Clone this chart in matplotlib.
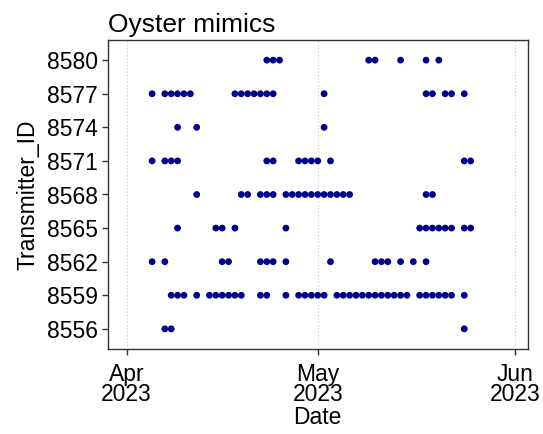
import matplotlib
matplotlib.use("Agg")
import matplotlib.pyplot as plt
import matplotlib.dates as mdates
import pandas as pd

plt.rcParams['font.family'] = ['Liberation Sans', 'DejaVu Sans']

title = "Oyster mimics"
x_label = "Date"
y_label = "Transmitter_ID"

transmitter_ids = [8556, 8559, 8562, 8565, 8568, 8571, 8574, 8577, 8580]

det_8556 = ["2023-04-07", "2023-04-08", "2023-05-24"]
det_8559 = ["2023-04-08", "2023-04-09", "2023-04-10", "2023-04-12",
            "2023-04-14", "2023-04-15", "2023-04-16", "2023-04-17", "2023-04-18", "2023-04-19",
            "2023-04-22", "2023-04-23", "2023-04-26", "2023-04-28", "2023-04-29", "2023-04-30",
            "2023-05-01", "2023-05-02",
            "2023-05-04", "2023-05-05", "2023-05-06", "2023-05-07", "2023-05-08", "2023-05-09",
            "2023-05-10", "2023-05-11", "2023-05-12", "2023-05-13", "2023-05-14", "2023-05-15",
            "2023-05-17", "2023-05-18", "2023-05-19", "2023-05-20", "2023-05-21", "2023-05-22",
            "2023-05-24"]
det_8562 = ["2023-04-05", "2023-04-07", "2023-04-16", "2023-04-17", "2023-04-22", "2023-04-23",
            "2023-04-24", "2023-04-26", "2023-05-03", "2023-05-10", "2023-05-11", "2023-05-12",
            "2023-05-14", "2023-05-16", "2023-05-18"]
det_8565 = ["2023-04-09", "2023-04-15", "2023-04-16", "2023-04-18", "2023-04-26",
            "2023-05-17", "2023-05-18", "2023-05-19", "2023-05-20", "2023-05-21", "2023-05-22",
            "2023-05-24", "2023-05-25"]
det_8568 = ["2023-04-12", "2023-04-19", "2023-04-20", "2023-04-22", "2023-04-23", "2023-04-24",
            "2023-04-26", "2023-04-27", "2023-04-28", "2023-04-29", "2023-04-30",
            "2023-05-01", "2023-05-02", "2023-05-03", "2023-05-04", "2023-05-05", "2023-05-06",
            "2023-05-18", "2023-05-19"]
det_8571 = ["2023-04-05", "2023-04-07", "2023-04-08", "2023-04-09", "2023-04-23", "2023-04-24",
            "2023-04-28", "2023-04-29", "2023-04-30", "2023-05-01", "2023-05-03",
            "2023-05-24", "2023-05-25"]
det_8574 = ["2023-04-09", "2023-04-12", "2023-05-02"]
det_8577 = ["2023-04-05", "2023-04-07", "2023-04-08", "2023-04-09", "2023-04-10", "2023-04-11",
            "2023-04-18", "2023-04-19", "2023-04-20", "2023-04-21", "2023-04-22", "2023-04-23",
            "2023-04-24", "2023-05-02", "2023-05-18", "2023-05-19", "2023-05-21", "2023-05-22",
            "2023-05-24"]
det_8580 = ["2023-04-23", "2023-04-24", "2023-04-25", "2023-05-09", "2023-05-10", "2023-05-14",
            "2023-05-18", "2023-05-20"]

detections = [det_8556, det_8559, det_8562, det_8565, det_8568, det_8571, det_8574, det_8577, det_8580]

W, H = 543, 434
fig = plt.figure(figsize=(W / 100, H / 100), dpi=100)
left, right, top, bottom = 107.5, 528, 40, 349
ax = fig.add_axes([left / W, 1 - bottom / H, (right - left) / W, (bottom - top) / H])

for i, dets in enumerate(detections):
    d = pd.to_datetime(dets)
    ax.scatter(d, [i] * len(d), s=24, color="#00008B", edgecolors="none", zorder=3)

ax.set_xlim(pd.Timestamp("2023-03-29"), pd.Timestamp("2023-06-03"))
ax.set_ylim(-0.6, len(transmitter_ids) - 1 + 0.6)

ax.xaxis.set_major_locator(mdates.MonthLocator())
ax.xaxis.set_major_formatter(mdates.DateFormatter("%b\n%Y"))
ax.set_yticks(range(len(transmitter_ids)))
ax.set_yticklabels([str(t) for t in transmitter_ids])

ax.grid(axis="x", color="#cccccc", linestyle=(0, (1, 2)), linewidth=0.8)
ax.grid(axis="y", visible=False)
ax.set_axisbelow(True)

for sp in ax.spines.values():
    sp.set_color("#333333")
    sp.set_linewidth(1.0)

ax.tick_params(axis="both", colors="#333333", length=4, width=1.0, labelsize=16.5,
               labelcolor="black")
ax.tick_params(axis="x", pad=6)
ax.tick_params(axis="y", pad=3)
for lbl in ax.get_xticklabels():
    lbl.set_linespacing(0.85)

ax.set_xlabel(x_label, fontsize=16.5, labelpad=0)
ax.set_ylabel(y_label, fontsize=16.5, labelpad=5)
ax.set_title(title, fontsize=19, loc="left", pad=6)

fig.savefig("out.png", dpi=100)
